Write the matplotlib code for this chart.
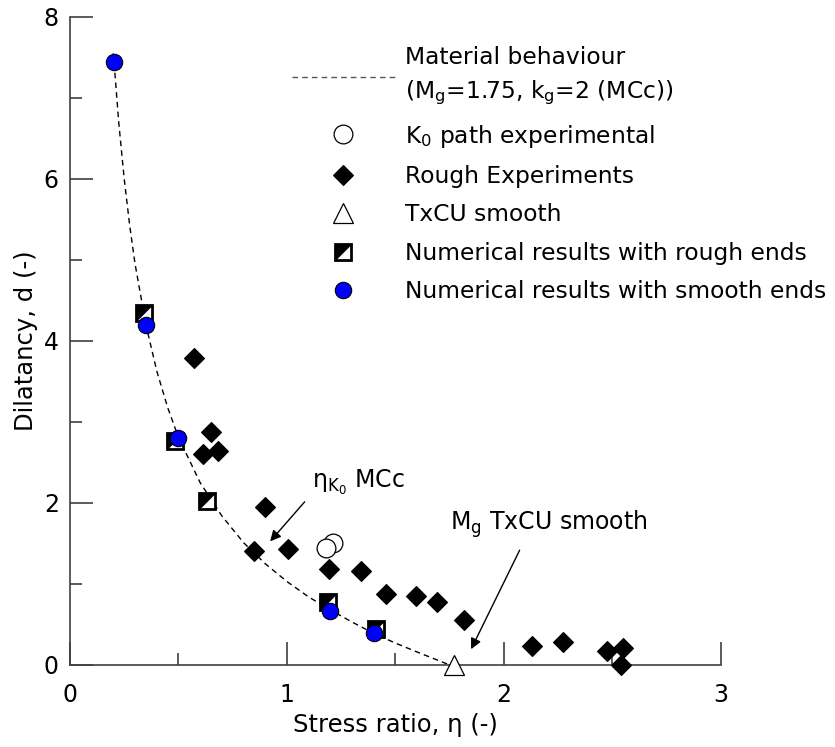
import matplotlib
matplotlib.use("Agg")
import matplotlib.pyplot as plt
from matplotlib.ticker import MultipleLocator

plt.rcParams["font.family"] = ["DejaVu Sans"]
plt.rcParams["mathtext.default"] = "regular"

# material behaviour curve (Mg=1.75, kg=2)
curve_eta = [0.20, 0.225, 0.25, 0.275, 0.30, 0.35, 0.40, 0.45, 0.50, 0.60, 0.70,
             0.80, 0.90, 1.00, 1.10, 1.20, 1.30, 1.40, 1.50, 1.60, 1.75]
curve_d = [7.55, 6.69, 6.00, 5.43, 4.95, 4.20, 3.63, 3.18, 2.81, 2.25, 1.84,
           1.51, 1.25, 1.03, 0.84, 0.68, 0.53, 0.39, 0.27, 0.16, 0.00]

# K0 path experimental
k0_eta = [1.21, 1.18]
k0_d = [1.50, 1.44]

# rough experiments
rough_eta = [0.573, 0.650, 0.614, 0.680, 0.899, 0.848, 1.003, 1.195, 1.341, 1.455,
             1.593, 1.690, 1.816, 2.130, 2.273, 2.476, 2.550, 2.540]
rough_d = [3.79, 2.88, 2.60, 2.64, 1.95, 1.41, 1.43, 1.18, 1.16, 0.88,
           0.85, 0.78, 0.56, 0.23, 0.28, 0.17, 0.21, 0.00]

# TxCU smooth
txcu_eta = [1.77]
txcu_d = [0.0]

# numerical results
num_rough_eta = [0.34, 0.485, 0.63, 1.19, 1.41]
num_rough_d = [4.35, 2.77, 2.02, 0.78, 0.45]
num_smooth_eta = [0.205, 0.35, 0.50, 1.20, 1.40]
num_smooth_d = [7.45, 4.20, 2.80, 0.67, 0.39]

SPINE = "#404040"
UPPER_LEFT_TRI = [(-1, 1), (1, 1), (-1, -1), (-1, 1)]

fig = plt.figure(figsize=(8.35, 7.47), dpi=100)
ax = fig.add_axes([0.0838, 0.1098, 0.7796, 0.8675])

line, = ax.plot(curve_eta, curve_d, color="black", lw=1.0, dashes=(4, 3), zorder=2)

k0, = ax.plot(k0_eta, k0_d, ls="none", marker="o", ms=13.5, mfc="white", mec="black",
              mew=0.9, zorder=3)
rough, = ax.plot(rough_eta, rough_d, ls="none", marker="D", ms=9.8, mfc="black", mec="black",
                 mew=0.8, zorder=3, clip_on=False)
txcu, = ax.plot(txcu_eta, txcu_d, ls="none", marker="^", ms=14.5, mfc="white", mec="black",
                mew=0.9, zorder=4, clip_on=False)
sq, = ax.plot(num_rough_eta, num_rough_d, ls="none", marker="s", ms=11.5, mfc="white",
              mec="black", mew=2.0, zorder=4)
tri, = ax.plot(num_rough_eta, num_rough_d, ls="none", marker=UPPER_LEFT_TRI, ms=11.5,
               mfc="black", mec="black", mew=0.5, zorder=4)
smooth, = ax.plot(num_smooth_eta, num_smooth_d, ls="none", marker="o", ms=11.8, mfc="#0000FF",
                  mec="black", mew=0.8, zorder=5)

# annotations
ax.text(1.115, 2.185, r"η$_{K_0}$ MCc", fontsize=17, va="baseline", ha="left")
ax.annotate("", xy=(0.914, 1.50), xytext=(1.09, 2.04),
            arrowprops=dict(arrowstyle="-|>", color="black", lw=1.0, mutation_scale=16))
ax.text(1.751, 1.667, r"M$_g$ TxCU smooth", fontsize=17, va="baseline", ha="left")
ax.annotate("", xy=(1.843, 0.164), xytext=(2.078, 1.448),
            arrowprops=dict(arrowstyle="-|>", color="black", lw=1.0, mutation_scale=16))

ax.set_xlim(0, 3)
ax.set_ylim(0, 8)
ax.xaxis.set_major_locator(MultipleLocator(1))
ax.xaxis.set_minor_locator(MultipleLocator(0.5))
ax.yaxis.set_major_locator(MultipleLocator(2))
ax.yaxis.set_minor_locator(MultipleLocator(1))
ax.tick_params(which="both", direction="in", color=SPINE, width=1.2, labelsize=17)
ax.tick_params(which="major", length=16.5)
ax.tick_params(which="minor", length=8.3)
ax.tick_params(axis="x", which="major", pad=13)
ax.tick_params(axis="y", which="major", pad=8)
ax.spines["top"].set_visible(False)
ax.spines["right"].set_visible(False)
for s in ("left", "bottom"):
    ax.spines[s].set_color(SPINE)
    ax.spines[s].set_linewidth(1.2)

ax.set_xlabel("Stress ratio, η (-)", fontsize=17.5, labelpad=4)
ax.set_ylabel("Dilatancy, d (-)", fontsize=17.5, labelpad=4)

leg = fig.legend(
    [line, k0, rough, txcu, (sq, tri), smooth],
    ["Material behaviour\n(M$_g$=1.75, k$_g$=2 (MCc))",
     "K$_0$ path experimental",
     "Rough Experiments",
     "TxCU smooth",
     "Numerical results with rough ends",
     "Numerical results with smooth ends"],
    loc="upper left", bbox_to_anchor=(292 / 835, 1 - 46 / 747),
    frameon=False, fontsize=16.8, handlelength=4.4, handletextpad=0.45,
    labelspacing=0.66, borderpad=0, borderaxespad=0,
)
leg.get_texts()[0].set_linespacing(1.5)
leg.legend_handles[0].set_color("#555555")

fig.savefig("out.png", dpi=100)
